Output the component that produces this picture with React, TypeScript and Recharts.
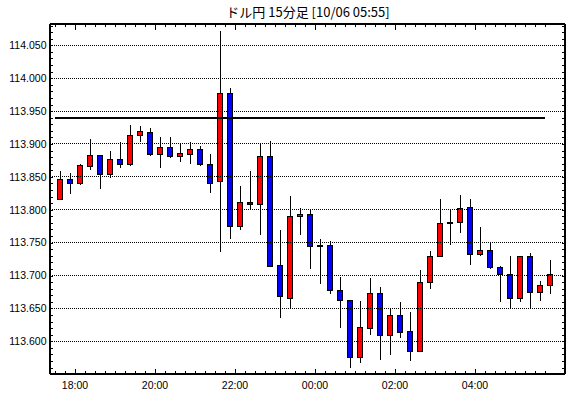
import { ComposedChart, Bar, XAxis, YAxis, ReferenceLine } from 'recharts'

// 15分足 ドル円
const times = [
  '17:30', '17:45',
  '18:00', '18:15', '18:30', '18:45', '19:00', '19:15', '19:30', '19:45',
  '20:00', '20:15', '20:30', '20:45', '21:00', '21:15', '21:30', '21:45',
  '22:00', '22:15', '22:30', '22:45', '23:00', '23:15', '23:30', '23:45',
  '00:00', '00:15', '00:30', '00:45', '01:00', '01:15', '01:30', '01:45',
  '02:00', '02:15', '02:30', '02:45', '03:00', '03:15', '03:30', '03:45',
  '04:00', '04:15', '04:30', '04:45', '05:00', '05:15', '05:30', '05:45',
]

const opens = [
  113.816, 113.846, 113.840, 113.867, 113.883, 113.854, 113.877, 113.870, 113.914, 113.918,
  113.885, 113.895, 113.882, 113.885, 113.892, 113.870, 113.843, 113.978, 113.776, 113.812,
  113.808, 113.882, 113.716, 113.666, 113.791, 113.794, 113.746, 113.747, 113.678, 113.663,
  113.576, 113.620, 113.674, 113.610, 113.640, 113.616, 113.586, 113.690, 113.730, 113.780,
  113.782, 113.804, 113.733, 113.739, 113.713, 113.703, 113.666, 113.730, 113.675, 113.686,
]
const highs = [
  113.859, 113.856, 113.869, 113.908, 113.884, 113.890, 113.903, 113.929, 113.927, 113.924,
  113.911, 113.911, 113.901, 113.903, 113.897, 113.885, 114.072, 113.985, 113.836, 113.859,
  113.900, 113.905, 113.769, 113.821, 113.803, 113.800, 113.756, 113.752, 113.698, 113.663,
  113.661, 113.696, 113.683, 113.651, 113.660, 113.645, 113.708, 113.737, 113.816, 113.800,
  113.823, 113.817, 113.774, 113.749, 113.715, 113.730, 113.730, 113.734, 113.691, 113.723,
]
const lows = [
  113.815, 113.824, 113.838, 113.861, 113.832, 113.849, 113.863, 113.866, 113.903, 113.882,
  113.863, 113.878, 113.872, 113.870, 113.866, 113.825, 113.736, 113.756, 113.769, 113.800,
  113.761, 113.713, 113.636, 113.651, 113.761, 113.710, 113.687, 113.672, 113.620, 113.559,
  113.567, 113.610, 113.572, 113.579, 113.605, 113.570, 113.585, 113.679, 113.730, 113.746,
  113.764, 113.716, 113.730, 113.710, 113.660, 113.651, 113.660, 113.649, 113.662, 113.672,
]
const closes = [
  113.846, 113.840, 113.868, 113.883, 113.854, 113.877, 113.870, 113.914, 113.919, 113.885,
  113.895, 113.882, 113.886, 113.892, 113.870, 113.840, 113.978, 113.775, 113.812, 113.808,
  113.882, 113.715, 113.669, 113.791, 113.794, 113.745, 113.745, 113.678, 113.663, 113.576,
  113.621, 113.674, 113.609, 113.640, 113.614, 113.586, 113.690, 113.730, 113.780, 113.781,
  113.803, 113.733, 113.739, 113.713, 113.703, 113.666, 113.730, 113.675, 113.686, 113.703,
]

const timeLabels = ['18:00', '20:00', '22:00', '00:00', '02:00', '04:00']
const priceLabels = [113.6, 113.65, 113.7, 113.75, 113.8, 113.85, 113.9, 113.95, 114.0, 114.05]
const markLine = 113.94

const yDomain = [113.5503, 114.0824]
const xDomain = [-1, 50.5]

const rows = times.map((t, i) => ({
  i,
  t,
  open: opens[i],
  high: highs[i],
  low: lows[i],
  close: closes[i],
}))

// 目盛り: 0.01刻み, 足の境目
const priceMinor = Array.from({ length: 54 }, (_, k) => +(113.55 + k * 0.01).toFixed(2))
const timeMinor = times.map((_, i) => i - 0.5)
const timeMajor = timeLabels.map((l) => times.indexOf(l) - 0.5)

const isMajorPrice = (v: number) => priceLabels.some((m) => Math.abs(m - v) < 1e-6)
const isMajorTime = (v: number) => timeMajor.some((m) => Math.abs(m - v) < 1e-6)

const FONT = '"Liberation Sans", Arial, sans-serif'

const LeftTick = (p: any) => {
  const v = p.payload.value
  const y = Math.round(p.y) + 0.5
  return (
    <g>
      <line x1={p.x} x2={p.x + 3} y1={y} y2={y} stroke="#000" />
      {isMajorPrice(v) && (
        <text x={p.x - 3.5} y={p.y + 3.8} textAnchor="end" fontSize={10.5} fontFamily={FONT} fill="#000">
          {v.toFixed(3)}
        </text>
      )}
    </g>
  )
}

const RightTick = (p: any) => {
  const y = Math.round(p.y) + 0.5
  return <line x1={p.x} x2={p.x - 3} y1={y} y2={y} stroke="#000" />
}

const BottomTick = (p: any) => {
  const v = p.payload.value
  const major = isMajorTime(v)
  const x = Math.round(p.x) + 0.5
  const label = major ? times[Math.round(v + 0.5)] : ''
  return (
    <g>
      <line x1={x} x2={x} y1={p.y} y2={p.y - (major ? 5 : 3)} stroke="#000" />
      {major && (
        <text x={p.x} y={p.y + 15} textAnchor="middle" fontSize={10.5} fontFamily={FONT} fill="#000">
          {label}
        </text>
      )}
    </g>
  )
}

const TopTick = (p: any) => {
  const major = isMajorTime(p.payload.value)
  const x = Math.round(p.x) + 0.5
  return <line x1={x} x2={x} y1={p.y} y2={p.y + (major ? 6 : 3)} stroke="#000" />
}

const Candle = (props: any) => {
  const { x, y, width, height, payload } = props
  const top = Math.min(y, y + height)
  const h = Math.abs(height)
  const k = h / (payload.high - payload.low)
  const yOf = (v: number) => top + (payload.high - v) * k
  const cx = Math.round(x + width / 2)
  const up = payload.close >= payload.open
  const bTop = Math.round(yOf(Math.max(payload.open, payload.close))) + 0.5
  const bBot = Math.round(yOf(Math.min(payload.open, payload.close))) + 0.5
  return (
    <g shapeRendering="crispEdges">
      <line x1={cx + 0.5} x2={cx + 0.5} y1={Math.round(top)} y2={Math.round(top + h)} stroke="#000" />
      {bBot - bTop >= 1 ? (
        <rect
          x={cx - 2.5}
          y={bTop}
          width={5}
          height={bBot - bTop}
          fill={up ? '#ff0000' : '#0000ff'}
          stroke="#000"
        />
      ) : (
        <line x1={cx - 3} x2={cx + 3} y1={bTop} y2={bTop} stroke="#000" />
      )}
    </g>
  )
}

export default function App() {
  return (
    <div style={{ position: 'absolute', left: 0, top: 0, width: 570, height: 398, background: '#fff' }}>
      <div
        style={{
          position: 'absolute',
          left: 158,
          top: 5,
          width: 300,
          textAlign: 'center',
          fontFamily: '"Noto Sans CJK JP", sans-serif',
          fontSize: 13,
          lineHeight: '14px',
          color: '#000',
        }}
      >
        ドル円 15分足 [10/06 05:55]
      </div>
      <ComposedChart width={570} height={398} data={rows} margin={{ top: 24, right: 5, bottom: 4, left: 5 }}>
        <XAxis
          xAxisId="x"
          dataKey="i"
          type="number"
          domain={xDomain}
          allowDataOverflow
          ticks={timeMinor}
          interval={0}
          height={20}
          tickSize={0}
          tickMargin={0}
          tickLine={false}
          axisLine={{ stroke: '#000', strokeWidth: 2 }}
          tick={(p: any) => <BottomTick {...p} />}
        />
        <XAxis
          xAxisId="xt"
          orientation="top"
          mirror
          dataKey="i"
          type="number"
          domain={xDomain}
          allowDataOverflow
          ticks={timeMinor}
          interval={0}
          height={10}
          tickSize={0}
          tickMargin={0}
          tickLine={false}
          axisLine={{ stroke: '#000', strokeWidth: 2 }}
          tick={(p: any) => <TopTick {...p} />}
        />
        <YAxis
          yAxisId="y"
          type="number"
          domain={yDomain}
          allowDataOverflow
          ticks={priceMinor}
          interval={0}
          width={45}
          tickSize={0}
          tickMargin={0}
          tickLine={false}
          axisLine={{ stroke: '#000', strokeWidth: 2 }}
          tick={(p: any) => <LeftTick {...p} />}
        />
        <YAxis
          yAxisId="yr"
          orientation="right"
          mirror
          type="number"
          domain={yDomain}
          allowDataOverflow
          ticks={priceMinor}
          interval={0}
          width={10}
          tickSize={0}
          tickMargin={0}
          tickLine={false}
          axisLine={{ stroke: '#000', strokeWidth: 2 }}
          tick={(p: any) => <RightTick {...p} />}
        />
        {priceLabels.map((v) => (
          <ReferenceLine
            key={v}
            xAxisId="x"
            yAxisId="y"
            y={v}
            stroke="#000"
            strokeDasharray="1 1"
            shapeRendering="crispEdges"
          />
        ))}
        <ReferenceLine
          xAxisId="x"
          yAxisId="y"
          segment={[
            { x: timeMinor[0], y: markLine },
            { x: timeMinor[timeMinor.length - 1], y: markLine },
          ]}
          stroke="#000"
          strokeWidth={2}
          shapeRendering="crispEdges"
        />
        <Bar
          xAxisId="x"
          yAxisId="y"
          dataKey={(d: any) => [d.low, d.high]}
          barSize={8}
          isAnimationActive={false}
          shape={(p: any) => <Candle {...p} />}
        />
      </ComposedChart>
    </div>
  )
}
